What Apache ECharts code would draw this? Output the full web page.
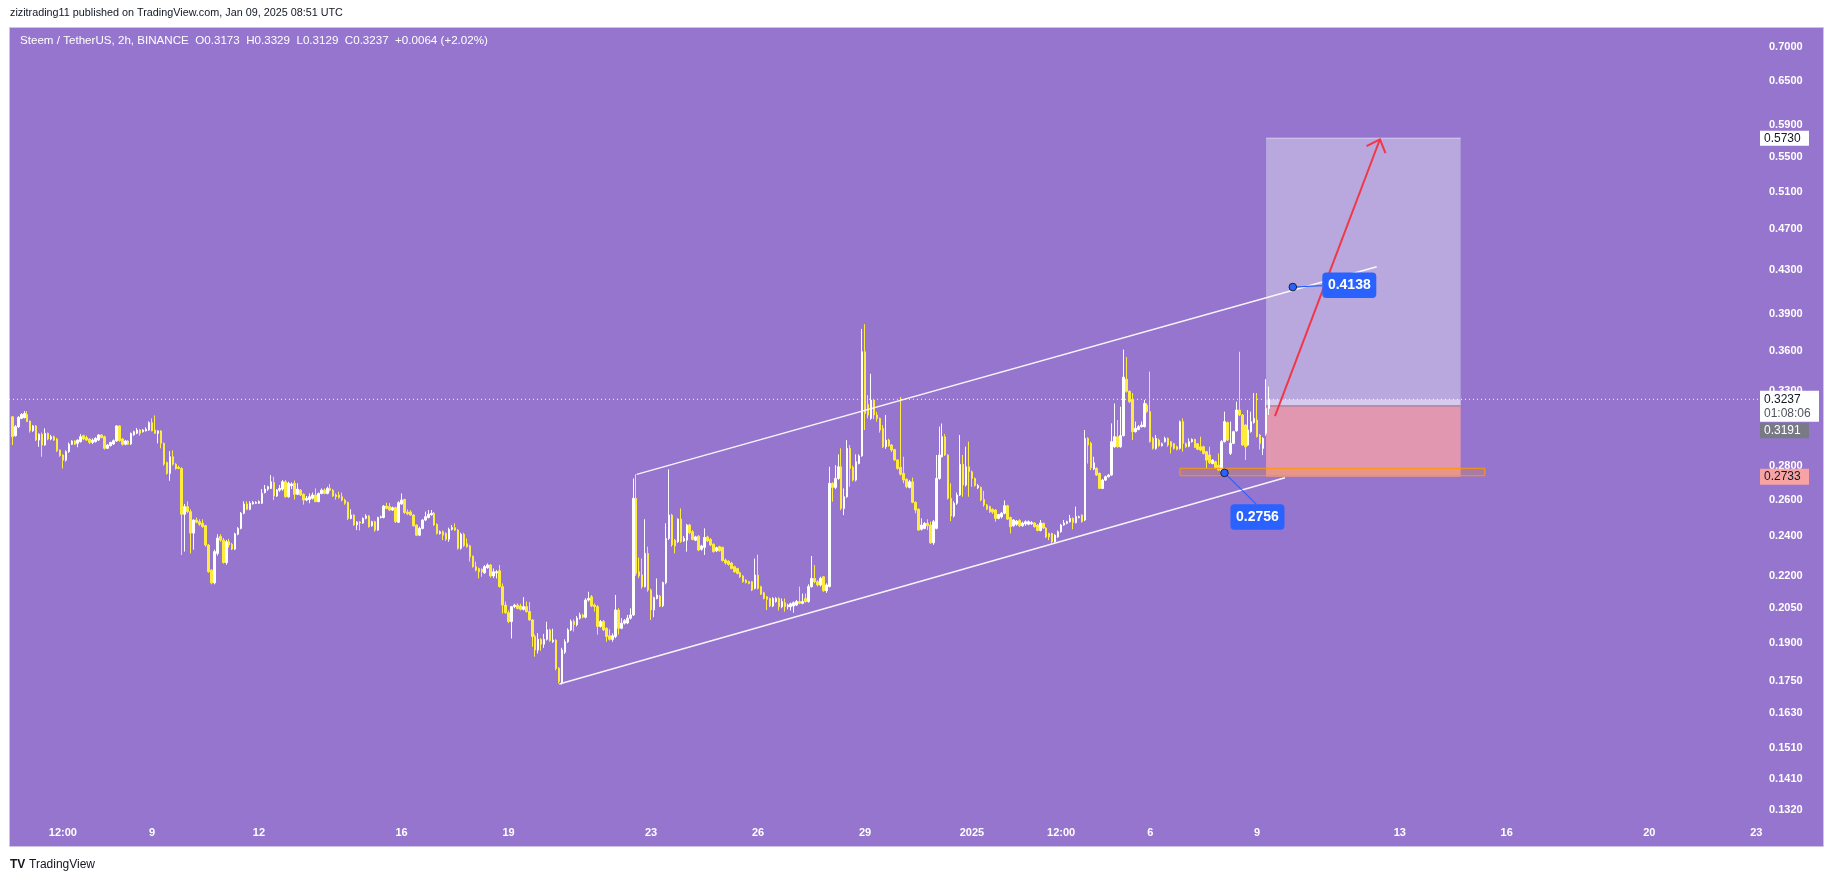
<!DOCTYPE html>
<html>
<head>
<meta charset="utf-8">
<script src="https://cdn.jsdelivr.net/npm/echarts@6/dist/echarts.min.js"></script>
<style>
html,body{margin:0;padding:0;background:#ffffff;}
#c{width:1835px;height:883px;}
</style>
</head>
<body>
<div id="c"></div>
<script>
// ---------------- DATA ----------------
const firstBarTime = '2024-12-05T02:00:00Z';
const barHours = 2;

// candles: [open, high, low, close]
const candlesDec05_12 = [
[.3116,.3120,.2929,.2983],[.2990,.3060,.2983,.3049],[.3049,.3120,.3040,.3112],[.3105,.3140,.3100,.3132],[.3110,.3155,.3105,.3139],
[.3132,.3155,.3080,.3083],[.3087,.3090,.3010,.3022],[.3022,.3060,.3015,.3054],[.3054,.3060,.2955,.2961],[.2961,.3005,.2918,.2999],
[.2999,.3010,.2855,.2929],[.2929,.3038,.2925,.3005],[.3005,.3010,.2960,.2968],[.2968,.2995,.2960,.2983],[.2983,.2990,.2955,.2961],
[.2968,.2975,.2885,.2893],[.2897,.2900,.2855,.2862],[.2866,.2870,.2783,.2834],[.2834,.2895,.2825,.2887],[.2887,.2945,.2880,.2934],
[.2934,.2960,.2930,.2955],[.2955,.2960,.2930,.2934],[.2940,.2965,.2915,.2961],[.2951,.3000,.2945,.2983],[.2990,.2995,.2960,.2968],
[.2977,.2990,.2955,.2961],[.2968,.2972,.2935,.2946],[.2946,.2972,.2935,.2961],[.2951,.2980,.2945,.2972],[.2961,.3000,.2955,.2994],
[.2994,.3000,.2972,.2977],[.2983,.2990,.2900,.2908],[.2908,.2935,.2905,.2929],[.2925,.2950,.2920,.2946],[.2936,.2965,.2930,.2957],
[.2955,.3058,.2950,.3054],[.3054,.3058,.2950,.2957],[.2968,.2975,.2925,.2934],[.2934,.2962,.2928,.2955],[.2955,.2960,.2930,.2934],
[.2936,.3010,.2930,.3005],[.2994,.3022,.2990,.3016],[.3005,.3040,.3000,.3027],[.3027,.3032,.2990,.3005],[.3016,.3032,.3010,.3027],
[.3021,.3045,.3018,.3032],[.3027,.3085,.3022,.3076],[.3076,.3105,.3018,.3021],[.3027,.3125,.3000,.3005],[.3005,.3025,.2940,.3021],
[.3021,.3025,.2908,.2940],[.2940,.2945,.2800,.2809],[.2820,.2825,.2745,.2753],[.2753,.2890,.2709,.2855],[.2855,.2895,.2800,.2809],
[.2809,.2815,.2775,.2783],[.2790,.2800,.2778,.2783],[.2783,.2790,.2303,.2518],[.2518,.2575,.2320,.2560],[.2560,.2590,.2525,.2532],
[.2532,.2545,.2311,.2416],[.2416,.2490,.2330,.2486],[.2486,.2500,.2468,.2474],[.2477,.2490,.2455,.2463],[.2469,.2490,.2445,.2450],
[.2456,.2460,.2345,.2354],[.2354,.2358,.2215,.2220],[.2228,.2232,.2160,.2167],[.2167,.2330,.2160,.2320],[.2311,.2410,.2300,.2390],
[.2398,.2410,.2370,.2379],[.2379,.2390,.2260,.2265],[.2265,.2380,.2255,.2371],[.2371,.2385,.2340,.2354],[.2358,.2365,.2328,.2333],
[.2333,.2418,.2328,.2412],[.2410,.2448,.2405,.2441],[.2441,.2530,.2436,.2523],[.2523,.2590,.2518,.2575],[.2575,.2590,.2540,.2545],
[.2545,.2590,.2540,.2579],[.2575,.2592,.2572,.2584],[.2579,.2590,.2575,.2584],[.2579,.2595,.2575,.2588],[.2579,.2660,.2575,.2635]
];
const candlesDec12_19 = [
[.2640,.2684,.2635,.2660],[.2660,.2680,.2650,.2674],[.2664,.2743,.2660,.2703],[.2698,.2733,.2597,.2620],[.2620,.2660,.2615,.2654],
[.2654,.2684,.2645,.2664],[.2660,.2713,.2650,.2703],[.2703,.2713,.2610,.2616],[.2616,.2703,.2610,.2694],[.2680,.2700,.2660,.2690],
[.2694,.2710,.2600,.2630],[.2630,.2694,.2625,.2660],[.2654,.2660,.2620,.2626],[.2630,.2635,.2571,.2597],[.2597,.2620,.2590,.2607],
[.2600,.2635,.2579,.2616],[.2607,.2640,.2600,.2626],[.2626,.2664,.2585,.2588],[.2588,.2640,.2585,.2635],[.2635,.2664,.2630,.2654],
[.2654,.2664,.2630,.2635],[.2635,.2674,.2630,.2664],[.2664,.2690,.2645,.2654],[.2654,.2660,.2615,.2620],[.2626,.2635,.2600,.2616],
[.2626,.2645,.2605,.2612],[.2616,.2640,.2590,.2597],[.2597,.2605,.2570,.2579],[.2583,.2588,.2486,.2495],[.2495,.2545,.2490,.2513],
[.2513,.2518,.2455,.2459],[.2460,.2480,.2432,.2475],[.2475,.2480,.2430,.2470],[.2470,.2500,.2465,.2495],[.2495,.2518,.2490,.2508],
[.2508,.2513,.2445,.2450],[.2455,.2482,.2450,.2477],[.2477,.2482,.2423,.2432],[.2432,.2504,.2428,.2500],[.2500,.2510,.2495,.2504],
[.2500,.2569,.2495,.2563],[.2563,.2582,.2545,.2550],[.2560,.2580,.2535,.2541],[.2541,.2560,.2536,.2554],[.2554,.2560,.2470,.2477],
[.2474,.2590,.2470,.2582],[.2575,.2635,.2570,.2597],[.2600,.2605,.2520,.2527],[.2530,.2545,.2513,.2520],[.2530,.2540,.2510,.2513],
[.2513,.2518,.2450,.2455],[.2459,.2463,.2400,.2405],[.2405,.2450,.2400,.2441],[.2441,.2490,.2436,.2486],[.2486,.2532,.2480,.2504],
[.2500,.2541,.2495,.2518],[.2515,.2541,.2510,.2523],[.2523,.2530,.2455,.2459],[.2463,.2468,.2408,.2414],[.2414,.2430,.2408,.2423],
[.2423,.2430,.2379,.2405],[.2414,.2420,.2375,.2384],[.2384,.2445,.2371,.2436],[.2436,.2459,.2430,.2445],[.2445,.2468,.2428,.2432],
[.2432,.2436,.2330,.2337],[.2337,.2418,.2330,.2410],[.2410,.2418,.2345,.2350],[.2360,.2388,.2340,.2345],[.2350,.2355,.2270,.2294],
[.2297,.2300,.2240,.2245],[.2245,.2270,.2222,.2228],[.2236,.2240,.2188,.2220],[.2232,.2236,.2196,.2220],[.2215,.2253,.2210,.2245],
[.2240,.2261,.2235,.2253],[.2253,.2258,.2192,.2200],[.2200,.2236,.2190,.2220],[.2215,.2228,.2188,.2220],[.2225,.2253,.2145,.2149],
[.2149,.2164,.2027,.2064],[.2064,.2080,.2025,.2030],[.2030,.2040,.1984,.1991],[.1991,.2060,.1919,.2057],[.2057,.2070,.2050,.2064],
[.2064,.2072,.2045,.2049]
];
const candlesDec19_26 = [
[.2060,.2070,.2040,.2045],[.2045,.2100,.2040,.2057],[.2057,.2080,.2030,.2035],[.2035,.2078,.1995,.1998],[.1998,.2002,.1884,.1927],
[.1927,.1935,.1844,.1871],[.1871,.1941,.1857,.1915],[.1915,.1920,.1868,.1895],[.1895,.1938,.1880,.1915],[.1915,.1990,.1910,.1955],
[.1955,.1960,.1905,.1910],[.1905,.1960,.1900,.1912],[.1912,.1915,.1790,.1796],[.1798,.1802,.1739,.1746],[.1742,.1880,.1735,.1871],
[.1862,.1915,.1855,.1905],[.1905,.1962,.1900,.1955],[.1955,.2000,.1950,.1991],[.1991,.2000,.1948,.1977],[.1977,.2015,.1970,.2006],
[.2006,.2030,.2000,.2020],[.2020,.2025,.2005,.2010],[.2010,.2095,.2005,.2087],[.2087,.2125,.2080,.2094],[.2102,.2110,.2055,.2060],
[.2064,.2072,.2035,.2057],[.2057,.2064,.1935,.1970],[.1970,.1998,.1965,.1991],[.1991,.1998,.1950,.1955],[.1962,.1966,.1905,.1927],
[.1930,.1958,.1910,.1915],[.1915,.1940,.1905,.1930],[.1927,.2110,.1920,.2042],[.2042,.2050,.1935,.1962],[.1962,.2006,.1958,.1984],
[.1984,.2002,.1978,.1995],[.1985,.2020,.1980,.2006],[.2006,.2049,.2000,.2020],[.2020,.2723,.2015,.2607],[.2607,.2748,.2200,.2212],
[.2220,.2290,.2190,.2200],[.2205,.2285,.2140,.2149],[.2149,.2490,.2145,.2311],[.2311,.2345,.2125,.2133],[.2133,.2140,.1998,.2042],
[.2042,.2102,.2010,.2098],[.2094,.2188,.2090,.2110],[.2105,.2110,.2055,.2059],[.2061,.2172,.2055,.2168],[.2168,.2468,.2160,.2388],
[.2388,.2777,.2380,.2513],[.2513,.2520,.2345,.2354],[.2379,.2385,.2311,.2349],[.2371,.2495,.2365,.2491],[.2491,.2550,.2365,.2371],
[.2375,.2400,.2370,.2388],[.2379,.2465,.2320,.2459],[.2459,.2465,.2410,.2418],[.2423,.2432,.2378,.2383],[.2379,.2402,.2374,.2396],
[.2400,.2405,.2322,.2328],[.2332,.2355,.2325,.2349],[.2342,.2441,.2303,.2393],[.2396,.2402,.2370,.2375],[.2383,.2390,.2348,.2354],
[.2358,.2362,.2315,.2320],[.2324,.2345,.2318,.2340],[.2345,.2350,.2320,.2324],[.2342,.2345,.2270,.2275],[.2278,.2285,.2255,.2263],
[.2272,.2276,.2250,.2256],[.2263,.2268,.2232,.2236],[.2245,.2250,.2215,.2220],[.2236,.2240,.2208,.2212],[.2215,.2220,.2190,.2196],
[.2200,.2204,.2168,.2172],[.2180,.2184,.2164,.2168],[.2172,.2176,.2160,.2164],[.2172,.2176,.2128,.2133],[.2141,.2285,.2136,.2204],
[.2204,.2305,.2136,.2141],[.2149,.2153,.2110,.2114],[.2120,.2125,.2090,.2094],[.2102,.2106,.2042,.2090],[.2094,.2098,.2055,.2060],
[.2060,.2100,.2055,.2094]
];
const candlesDec26_28 = [
[.2080,.2100,.2075,.2094],[.2094,.2100,.2040,.2057],[.2057,.2094,.2050,.2080],[.2075,.2094,.2035,.2057],[.2057,.2070,.2045,.2064],
[.2057,.2075,.2040,.2070],[.2060,.2080,.2030,.2075],[.2064,.2087,.2060,.2080],[.2080,.2149,.2068,.2072],[.2072,.2117,.2068,.2080],
[.2094,.2117,.2075,.2080],[.2080,.2160,.2075,.2149],[.2149,.2298,.2145,.2188],[.2188,.2253,.2165,.2172],[.2172,.2180,.2150,.2157],
[.2157,.2196,.2150,.2188],[.2196,.2200,.2125,.2130],[.2130,.2165,.2120,.2157]
];
const candlesDec28_Jan03 = [
[.2150,.2793,.2145,.2694],[.2694,.2700,.2588,.2670],[.2670,.2803,.2660,.2723],[.2723,.2870,.2715,.2793],[.2793,.2908,.2540,.2550],
[.2550,.2664,.2513,.2616],[.2616,.2961,.2610,.2908],[.2908,.2929,.2674,.2783],[.2790,.2800,.2705,.2713],[.2713,.2870,.2705,.2824],
[.2813,.2870,.2808,.2860],[.2860,.3775,.2855,.3592],[.3592,.3815,.3027,.3139],[.3200,.3267,.3105,.3128],[.3105,.3423,.3095,.3232],
[.3232,.3240,.3100,.3128],[.3128,.3150,.3083,.3105],[.3105,.3110,.3010,.3027],[.3038,.3060,.2910,.2918],[.2918,.3128,.2905,.2961],
[.2961,.2970,.2918,.2925],[.2929,.2935,.2885,.2897],[.2900,.2905,.2830,.2835],[.2835,.2840,.2775,.2783],[.2790,.3254,.2740,.2748],
[.2753,.2855,.2694,.2713],[.2718,.2723,.2665,.2674],[.2670,.2713,.2664,.2703],[.2703,.2728,.2579,.2584],[.2584,.2590,.2523,.2541],
[.2545,.2550,.2428,.2432],[.2436,.2495,.2430,.2459],[.2441,.2475,.2436,.2468],[.2468,.2490,.2432,.2455],[.2459,.2477,.2360,.2365],
[.2365,.2486,.2355,.2477],[.2441,.2866,.2436,.2723],[.2723,.3049,.2715,.2866],[.2855,.3070,.2850,.2983],[.2983,.3000,.2860,.2866],
[.2866,.2870,.2600,.2607],[.2607,.2694,.2480,.2508],[.2508,.2590,.2500,.2579],[.2579,.2640,.2570,.2626],[.2626,.2994,.2620,.2808],
[.2808,.2866,.2616,.2684],[.2684,.2918,.2675,.2793],[.2793,.2951,.2616,.2763],[.2763,.2770,.2674,.2723],[.2723,.2728,.2675,.2680],
[.2668,.2690,.2660,.2680],[.2670,.2675,.2590,.2597],[.2600,.2650,.2560,.2569],[.2569,.2575,.2540,.2546],[.2560,.2565,.2525,.2532],
[.2545,.2550,.2520,.2529],[.2541,.2545,.2477,.2495],[.2495,.2520,.2490,.2516],[.2504,.2530,.2495,.2523],[.2523,.2595,.2518,.2565],
[.2565,.2570,.2486,.2491],[.2500,.2505,.2414,.2450],[.2455,.2490,.2450,.2486],[.2463,.2486,.2455,.2480],[.2483,.2490,.2448,.2455],
[.2455,.2477,.2450,.2470],[.2465,.2484,.2455,.2477]
];
const candlesJan03_09 = [
[.2463,.2484,.2458,.2477],[.2466,.2480,.2460,.2472],[.2470,.2475,.2445,.2450],[.2459,.2463,.2425,.2430],[.2430,.2486,.2425,.2470],
[.2468,.2472,.2438,.2443],[.2443,.2447,.2390,.2396],[.2414,.2418,.2379,.2396],[.2414,.2418,.2362,.2371],[.2371,.2410,.2366,.2405],
[.2396,.2430,.2392,.2423],[.2423,.2465,.2418,.2459],[.2459,.2486,.2455,.2470],[.2468,.2482,.2463,.2477],[.2477,.2514,.2472,.2495],
[.2495,.2500,.2436,.2472],[.2472,.2560,.2468,.2505],[.2500,.2510,.2495,.2504],[.2513,.2518,.2472,.2477],[.2486,.3027,.2480,.2972],
[.2972,.2980,.2813,.2929],[.2940,.2950,.2773,.2787],[.2780,.2855,.2773,.2818],[.2783,.2790,.2738,.2743],[.2753,.2758,.2660,.2664],
[.2664,.2720,.2660,.2713],[.2713,.2740,.2708,.2733],[.2733,.2750,.2728,.2743],[.2743,.3071,.2738,.2951],[.2918,.3208,.2912,.2983],
[.2983,.3094,.2912,.2918],[.2918,.3185,.2912,.2990],[.2990,.3609,.2985,.3398],[.3383,.3552,.3285,.3294],[.3294,.3300,.3210,.3220],
[.3236,.3282,.2961,.3016],[.3016,.3083,.3010,.3038],[.3030,.3060,.3025,.3049],[.3049,.3083,.3044,.3060],[.3049,.3232,.3044,.3208],
[.3197,.3210,.3145,.3151],[.3151,.3439,.2945,.2951],[.2972,.2980,.2900,.2908],[.2908,.2994,.2900,.2972],[.2961,.2970,.2918,.2925],
[.2925,.2945,.2920,.2937],[.2951,.2983,.2945,.2972],[.2972,.2978,.2918,.2929],[.2951,.2955,.2876,.2918],[.2937,.2942,.2900,.2908],
[.2918,.2925,.2895,.2902],[.2908,.3090,.2900,.3083],[.3083,.3105,.2887,.2940],[.2937,.2945,.2912,.2918],[.2922,.2972,.2915,.2951],
[.2951,.2972,.2945,.2965],[.2965,.2970,.2910,.2914],[.2937,.2942,.2897,.2902],[.2918,.2983,.2890,.2897],[.2918,.2925,.2870,.2876],
[.2887,.2892,.2783,.2834],[.2866,.2918,.2810,.2818],[.2813,.2840,.2808,.2834],[.2824,.2830,.2780,.2787],[.2803,.2876,.2768,.2773],
[.2768,.2961,.2756,.2951],[.2951,.3151,.2945,.3083],[.3077,.3083,.2955,.2961],[.2876,.3083,.2866,.2940],[.2940,.3022,.2935,.3016],
[.3022,.3220,.3016,.3162],[.3162,.3592,.3120,.3128],[.3128,.3135,.2925,.2929],[.3060,.3065,.2834,.2918],[.2929,.3162,.2925,.3027],
[.3016,.3151,.3010,.3083],[.3077,.3282,.3070,.3105],[.3094,.3282,.2978,.2983],[.2994,.3000,.2900,.2940],[.2908,.2980,.2866,.2972],
[.3005,.3383,.2990,.3173],[.3173,.3329,.3129,.3237]
];

const priceTicks = [0.7,0.65,0.59,0.55,0.51,0.47,0.43,0.39,0.36,0.33,0.28,0.26,0.24,0.22,0.205,0.19,0.175,0.163,0.151,0.141,0.132];
const timeTicks = ['2024-12-06T12:00:00Z','2024-12-09T00:00:00Z','2024-12-12T00:00:00Z','2024-12-16T00:00:00Z','2024-12-19T00:00:00Z',
  '2024-12-23T00:00:00Z','2024-12-26T00:00:00Z','2024-12-29T00:00:00Z','2025-01-01T00:00:00Z','2025-01-03T12:00:00Z',
  '2025-01-06T00:00:00Z','2025-01-09T00:00:00Z','2025-01-13T00:00:00Z','2025-01-16T00:00:00Z','2025-01-20T00:00:00Z','2025-01-23T00:00:00Z'];
const timeTickLabels = ['12:00','9','12','16','19','23','26','29','2025','12:00','6','9','13','16','20','23'];

const upperChannel = [['2024-12-22T14:18:00Z',0.2747],['2025-01-12T08:29:00Z',0.4326]];
const lowerChannel = [['2024-12-20T10:12:00Z',0.1737],['2025-01-09T18:45:00Z',0.2727]];
const positionTimes = ['2025-01-09T06:00:00Z','2025-01-14T17:00:00Z'];
const positionPrices = [0.5730, 0.3191, 0.2733]; // target, entry, stop
const lastPrice = 0.3237;
const zoneTimes = ['2025-01-06T20:00:00Z','2025-01-15T09:20:00Z'];
const zonePrices = [0.2784, 0.2739];
const arrowPoints = [['2025-01-09T12:00:00Z',0.3121],['2025-01-12T10:40:00Z',0.5717]];
const calloutPoints = [['2025-01-10T00:00:00Z',0.4138,'0.4138'],['2025-01-08T02:00:00Z',0.2756,'0.2756']];
const axisRange = ['2024-12-04T23:44:00Z','2025-01-23T03:52:00Z'];
const priceRange = [0.1290, 0.7308];
const headerText = 'zizitrading11 published on TradingView.com, Jan 09, 2025 08:51 UTC';
const legendText = 'Steem / TetherUS, 2h, BINANCE  O0.3173  H0.3329  L0.3129  C0.3237  +0.0064 (+2.02%)';
const countdownText = '01:08:06';

// ---------------- BUILD ----------------
const T = s => Date.parse(s);
const allCandles = [].concat(candlesDec05_12, candlesDec12_19, candlesDec19_26, candlesDec26_28, candlesDec28_Jan03, candlesJan03_09);
const t0 = T(firstBarTime);
const kData = allCandles.map((c, i) => [t0 + i * barHours * 3600000, c[0], c[3], c[2], c[1]]);
const tickVals = timeTicks.map(T);
function tickLabelFor(v) {
  for (let i = 0; i < tickVals.length; i++) {
    if (Math.abs(tickVals[i] - v) < 60000) return timeTickLabels[i];
  }
  return '';
}

const FONT = 'Liberation Sans, Arial, sans-serif';
const UP = '#ffffff', DOWN = '#ffeb3b';

const chart = echarts.init(document.getElementById('c'), null, {renderer: 'canvas', width: 1835, height: 883});

function positionRender(params, api) {
  const xl = api.coord([T(positionTimes[0]), positionPrices[0]])[0];
  const xr = api.coord([T(positionTimes[1]), positionPrices[0]])[0];
  const yT = api.coord([T(positionTimes[0]), positionPrices[0]])[1];
  const yE = api.coord([T(positionTimes[0]), positionPrices[1]])[1];
  const yS = api.coord([T(positionTimes[0]), positionPrices[2]])[1];
  const yC = api.coord([T(positionTimes[0]), lastPrice])[1];
  const w = xr - xl;
  return {type: 'group', children: [
    {type: 'rect', shape: {x: xl, y: yT, width: w, height: yC - yT}, style: {fill: '#b9a8dd'}},
    {type: 'rect', shape: {x: xl, y: yC, width: w, height: yE - yC}, style: {fill: '#d6cbee'}},
    {type: 'rect', shape: {x: xl, y: yE, width: w, height: yS - yE}, style: {fill: '#e197b0'}},
    {type: 'line', shape: {x1: xl, y1: yT, x2: xr, y2: yT}, style: {stroke: '#d8cff0', lineWidth: 1}},
    {type: 'line', shape: {x1: xl, y1: yE, x2: xr, y2: yE}, style: {stroke: '#7e7b8c', lineWidth: 1}}
  ]};
}

function zoneRender(params, api) {
  const p1 = api.coord([T(zoneTimes[0]), zonePrices[0]]);
  const p2 = api.coord([T(zoneTimes[1]), zonePrices[1]]);
  return {type: 'rect', shape: {x: p1[0], y: p1[1], width: p2[0] - p1[0], height: p2[1] - p1[1]},
    style: {fill: 'rgba(255,152,0,0.22)', stroke: '#ff9800', lineWidth: 1}};
}

function arrowRender(params, api) {
  const a = api.coord([T(arrowPoints[0][0]), arrowPoints[0][1]]);
  const b = api.coord([T(arrowPoints[1][0]), arrowPoints[1][1]]);
  const ang = Math.atan2(a[1] - b[1], a[0] - b[0]);
  const L = 15, sp = 0.74;
  const h1 = [b[0] + L * Math.cos(ang + sp), b[1] + L * Math.sin(ang + sp)];
  const h2 = [b[0] + L * Math.cos(ang - sp), b[1] + L * Math.sin(ang - sp)];
  return {type: 'group', children: [
    {type: 'line', shape: {x1: a[0], y1: a[1], x2: b[0], y2: b[1]}, style: {stroke: '#f23645', lineWidth: 2}},
    {type: 'polyline', shape: {points: [h1, b, h2]}, style: {stroke: '#f23645', lineWidth: 2, fill: null}}
  ]};
}

function calloutRender(params, api) {
  const idx = params.dataIndex;
  const cp = calloutPoints[idx];
  const p = api.coord([T(cp[0]), cp[1]]);
  let bx, by, lx, ly;
  if (idx === 0) { bx = p[0] + 29.5; by = p[1] - 14.5; lx = bx; ly = p[1] - 1.5; }
  else { bx = p[0] + 6; by = p[1] + 31.3; lx = p[0] + 31.7; ly = by; }
  const bw = 54, bh = 25.5;
  return {type: 'group', children: [
    {type: 'line', shape: {x1: p[0], y1: p[1], x2: lx, y2: ly}, style: {stroke: '#2962ff', lineWidth: 1.2}},
    {type: 'rect', shape: {x: bx, y: by, width: bw, height: bh, r: 4}, style: {fill: '#2962ff'}},
    {type: 'text', style: {text: cp[2], x: bx + bw / 2, y: by + bh / 2, align: 'center', verticalAlign: 'middle',
      fill: '#ffffff', font: 'bold 14px ' + FONT}},
    {type: 'circle', shape: {cx: p[0], cy: p[1], r: 3.8}, style: {fill: '#2962ff', stroke: '#1e222d', lineWidth: 1}}
  ]};
}

function tagsRender(params, api) {
  const cs = params.coordSys;
  const x = cs.x + cs.width - 2;
  const yOf = pr => api.coord([T(positionTimes[0]), pr])[1];
  const children = [];
  function tag(y, w, h, bg, lines, fg) {
    children.push({type: 'rect', shape: {x: x, y: y, width: w, height: h}, style: {fill: bg}});
    lines.forEach(ln => {
      children.push({type: 'text', style: {text: ln[0], x: x + 4, y: y + ln[1], verticalAlign: 'middle',
        fill: ln[2] || fg, font: '12px ' + FONT}});
    });
  }
  const yTarget = yOf(positionPrices[0]);
  tag(yTarget - 7.5, 49, 15, '#ffffff', [['0.5730', 7.5]], '#131722');
  const yLast = yOf(lastPrice);
  tag(yLast - 8.5, 59, 31, '#ffffff', [['0.3237', 8.5], [countdownText, 23, '#50535e']], '#131722');
  tag(yLast + 23.3, 49, 15.5, '#787b86', [['0.3191', 7.8]], '#ffffff');
  const yStop = yOf(positionPrices[2]);
  tag(yStop - 8, 49, 16, '#f7a3a3', [['0.2733', 8]], '#131722');
  return {type: 'group', children: children};
}

const option = {
  backgroundColor: '#ffffff',
  animation: false,
  graphic: [
    {type: 'rect', z: -10, silent: true, shape: {x: 9.5, y: 27.5, width: 1814, height: 819},
      style: {fill: '#9575cd', stroke: '#cfc4e6', lineWidth: 1}},
    {type: 'text', left: 10, top: 8, style: {text: headerText, fill: '#131722', font: '10.8px ' + FONT}},
    {type: 'text', left: 20, top: 35, style: {text: legendText, fill: '#ffffff', font: '11.6px ' + FONT}},
    {type: 'text', left: 10, top: 859, style: {text: 'TV', fill: '#131722', font: 'bold 12px ' + FONT}},
    {type: 'text', left: 29, top: 859, style: {text: 'TradingView', fill: '#131722', font: '12px ' + FONT}}
  ],
  grid: {left: 9, right: 73, top: 27, bottom: 63, containLabel: false},
  xAxis: {
    type: 'value', min: T(axisRange[0]), max: T(axisRange[1]), scale: true,
    axisLine: {show: false}, axisTick: {show: false}, splitLine: {show: false},
    axisLabel: {
      customValues: tickVals, color: '#ffffff', fontSize: 11, fontWeight: 'bold', fontFamily: FONT, margin: 7,
      formatter: v => tickLabelFor(v)
    }
  },
  yAxis: {
    type: 'log', logBase: 10, position: 'right', min: priceRange[0], max: priceRange[1],
    axisLine: {show: false}, axisTick: {show: false}, splitLine: {show: false},
    axisLabel: {
      customValues: priceTicks, color: '#ffffff', fontSize: 11, fontWeight: 'bold', fontFamily: FONT, margin: 7,
      formatter: v => Number(v).toFixed(4)
    }
  },
  series: [
    {type: 'custom', name: 'position', z: 1, silent: true, renderItem: positionRender,
      data: [[T(positionTimes[0]), positionPrices[0]]], encode: {x: 0, y: 1}},
    {type: 'line', name: 'lastPriceLine', z: 1, silent: true, symbol: 'none',
      data: [[T(axisRange[0]), lastPrice], [T(axisRange[1]), lastPrice]],
      lineStyle: {color: '#ffffff', type: [1, 3], width: 1, opacity: 0.95}},
    {type: 'custom', name: 'zone', z: 3, silent: true, renderItem: zoneRender,
      data: [[T(zoneTimes[0]), zonePrices[0]]], encode: {x: 0, y: 1}},
    {type: 'candlestick', name: 'STEEMUSDT', z: 2, data: kData, barWidth: 2, silent: true,
      itemStyle: {color: UP, color0: DOWN, borderColor: UP, borderColor0: DOWN, borderWidth: 1}
    },
    {type: 'line', name: 'upper', z: 4, silent: true, symbol: 'none', data: upperChannel.map(p => [T(p[0]), p[1]]),
      lineStyle: {color: 'rgba(255,255,255,0.92)', width: 1.5}},
    {type: 'line', name: 'lower', z: 4, silent: true, symbol: 'none', data: lowerChannel.map(p => [T(p[0]), p[1]]),
      lineStyle: {color: 'rgba(255,255,255,0.92)', width: 1.5}},
    {type: 'custom', name: 'arrow', z: 5, silent: true, renderItem: arrowRender,
      data: [[T(arrowPoints[0][0]), arrowPoints[0][1]]], encode: {x: 0, y: 1}},
    {type: 'custom', name: 'callouts', z: 6, silent: true, renderItem: calloutRender,
      data: calloutPoints.map(c => [T(c[0]), c[1]]), encode: {x: 0, y: 1}},
    {type: 'custom', name: 'tags', z: 7, silent: true, renderItem: tagsRender,
      data: [[T(positionTimes[0]), lastPrice]], encode: {x: 0, y: 1}}
  ]
};
chart.setOption(option);
</script>
</body>
</html>
